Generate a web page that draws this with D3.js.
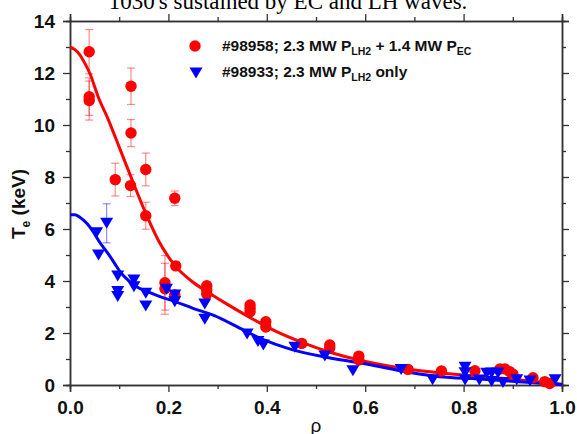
<!DOCTYPE html>
<html><head><meta charset="utf-8">
<script src="https://cdn.jsdelivr.net/npm/d3@7"></script>
<style>
body{margin:0;background:#fff;}
svg{display:block;}
text{font-family:"Liberation Sans",Arial,sans-serif;}
</style></head>
<body>
<svg id="c" width="577" height="434"></svg>
<script>
// ---- data ----
const xTicks = [0, 0.2, 0.4, 0.6, 0.8, 1.0];
const xMinor = [0.1, 0.3, 0.5, 0.7, 0.9];
const yTicks = [0, 2, 4, 6, 8, 10, 12, 14];
const yMinor = [1, 3, 5, 7, 9, 11, 13];

const legendLabels = ["#98958; 2.3 MW P", "#98933; 2.3 MW P"];

// shot #98958 (LH + EC): rho, Te, error
const redRho = [0.039,0.039,0.039,0.124,0.124,0.092,0.123,0.154,0.154,0.213,0.215,0.193,0.193,0.213,0.278,0.278,0.278,0.366,0.366,0.366,0.398,0.398,0.471,0.528,0.528,0.587,0.587,0.687,0.755,0.823,0.874,0.884,0.894,0.900,0.941,0.965,0.975];
const redTe  = [12.82,11.09,10.94,11.49,9.69,7.90,7.67,8.29,6.51,7.18,4.58,3.93,3.70,3.46,3.82,3.65,3.50,3.08,2.95,2.82,2.43,2.23,1.60,1.54,1.42,1.11,0.96,0.60,0.54,0.55,0.62,0.62,0.51,0.42,0.28,0.13,0.06];
const redErr = [0.85,0.72,0.75,0.70,0.52,0.63,0.42,0.63,0.52,0.28,0.15,1.05,0.98,0,0,0,0,0,0,0,0,0,0,0,0,0,0,0,0,0,0,0,0,0,0,0,0];

// shot #98933 (LH only)
const blueRho = [0.0745,0.054,0.058,0.097,0.097,0.097,0.130,0.130,0.154,0.154,0.196,0.213,0.213,0.274,0.274,0.360,0.382,0.393,0.457,0.518,0.575,0.673,0.737,0.803,0.803,0.803,0.832,0.847,0.857,0.870,0.857,0.880,0.908,0.935,0.986];
const blueTe  = [6.22,5.86,5.00,4.19,3.60,3.40,4.04,3.78,3.53,3.04,3.68,3.46,3.20,3.12,2.53,1.96,1.67,1.54,1.45,1.12,0.55,0.60,0.20,0.68,0.47,0.19,0.19,0.45,0.46,0.46,0.13,0.10,0.20,0.15,0.20];
const blueErr = [0.75,0,0,0,0,0,0,0,0,0,0,0,0,0,0,0,0,0,0,0,0,0,0,0,0,0,0,0,0,0,0,0,0,0,0];

// fitted profiles
const redFitRho = [0,0.01,0.02,0.03,0.04,0.058,0.078,0.10,0.125,0.154,0.18,0.213,0.25,0.278,0.32,0.37,0.42,0.474,0.53,0.596,0.65,0.70,0.80,0.90,1.0];
const redFitTe  = [13.0,12.9,12.7,12.38,12.0,11.05,10.2,9.15,7.95,6.6,5.55,4.6,3.95,3.6,3.1,2.55,2.05,1.62,1.25,0.92,0.72,0.58,0.38,0.22,0.03];
const blueFitRho = [0,0.01,0.02,0.035,0.047,0.06,0.0745,0.09,0.1016,0.12,0.1355,0.16,0.183,0.215,0.25,0.291,0.352,0.386,0.42,0.453,0.515,0.596,0.671,0.738,0.84,0.92,1.0];
const blueFitTe  = [6.55,6.55,6.45,6.2,5.9,5.5,5.13,4.7,4.36,4.0,3.78,3.57,3.4,3.2,2.95,2.69,2.12,1.8,1.55,1.35,1.09,0.83,0.55,0.35,0.22,0.12,0.02];

// ---- drawing ----
const svg = d3.select("#c");
const x = d3.scaleLinear().domain([0,1]).range([70,562]);
const y = d3.scaleLinear().domain([0,14]).range([385,21]);
const RED = "#ff0000", BLUE = "#0000ff";
const axisCol = "#333";

// title (cropped at the top edge, as in the source figure)
svg.append("text").attr("x",288).attr("y",9).attr("text-anchor","middle")
  .style("font-family","'Liberation Serif','Times New Roman',serif").style("font-size","23px")
  .text("1030's sustained by EC and LH waves.");

function styleAxis(g){
  g.select(".domain").attr("stroke",axisCol).attr("stroke-width",1.5);
  g.selectAll(".tick line").attr("stroke",axisCol).attr("stroke-width",1.3);
  g.selectAll("text").style("font-size","19px").style("font-weight","bold").attr("fill","#111");
}
const fmtX = d3.format(".1f");
// bottom
svg.append("g").attr("transform","translate(0,385)")
  .call(d3.axisBottom(x).tickValues(xTicks).tickSize(7).tickPadding(9).tickFormat(fmtX)).call(styleAxis);
svg.append("g").attr("transform","translate(0,385)")
  .call(d3.axisBottom(x).tickValues(xMinor).tickSize(4).tickFormat("")).call(styleAxis);
// top
svg.append("g").attr("transform","translate(0,21)")
  .call(d3.axisTop(x).tickValues(xTicks).tickSize(7).tickFormat("")).call(styleAxis);
svg.append("g").attr("transform","translate(0,21)")
  .call(d3.axisTop(x).tickValues(xMinor).tickSize(4).tickFormat("")).call(styleAxis);
// left
svg.append("g").attr("transform","translate(70,0)")
  .call(d3.axisLeft(y).tickValues(yTicks).tickSize(7).tickPadding(8).tickFormat(d3.format("d"))).call(styleAxis);
svg.append("g").attr("transform","translate(70,0)")
  .call(d3.axisLeft(y).tickValues(yMinor).tickSize(4).tickFormat("")).call(styleAxis);
// right
svg.append("g").attr("transform","translate(562,0)")
  .call(d3.axisRight(y).tickValues(yTicks).tickSize(7).tickFormat("")).call(styleAxis);
svg.append("g").attr("transform","translate(562,0)")
  .call(d3.axisRight(y).tickValues(yMinor).tickSize(4).tickFormat("")).call(styleAxis);

// axis titles
svg.append("text").attr("x",316).attr("y",432).attr("text-anchor","middle")
  .style("font-size","19px").attr("fill","#111").text("ρ");
const yl = svg.append("text").attr("transform","translate(25,204) rotate(-90)").attr("text-anchor","middle")
  .style("font-size","19px").style("font-weight","bold").attr("fill","#111");
yl.append("tspan").text("T");
yl.append("tspan").attr("dy",5).style("font-size","12px").text("e");
yl.append("tspan").attr("dy",-5).text(" (keV)");

const plot = svg.append("g");
const red = redRho.map((r,i)=>({r, t:redTe[i], e:redErr[i]}));
const blue = blueRho.map((r,i)=>({r, t:blueTe[i], e:blueErr[i]}));

// error bars
function errBars(data, col){
  const g = plot.append("g").attr("stroke",col).attr("stroke-width",1.2).attr("fill","none");
  data.filter(d=>d.e>0).forEach(d=>{
    const cx = x(d.r), y1 = y(d.t+d.e), y2 = y(d.t-d.e);
    g.append("line").attr("x1",cx).attr("x2",cx).attr("y1",y1).attr("y2",y2);
    g.append("line").attr("x1",cx-4).attr("x2",cx+4).attr("y1",y1).attr("y2",y1);
    g.append("line").attr("x1",cx-4).attr("x2",cx+4).attr("y1",y2).attr("y2",y2);
  });
}
errBars(red, "rgba(255,0,0,0.45)");
errBars(blue, "rgba(0,0,255,0.45)");

// fit lines
const line = d3.line().x(d=>x(d[0])).y(d=>y(d[1])).curve(d3.curveMonotoneX);
plot.append("path").attr("d", line(redFitRho.map((r,i)=>[r,redFitTe[i]])))
  .attr("fill","none").attr("stroke",RED).attr("stroke-width",3);
plot.append("path").attr("d", line(blueFitRho.map((r,i)=>[r,blueFitTe[i]])))
  .attr("fill","none").attr("stroke",BLUE).attr("stroke-width",3);

// markers
const tri = "M-6.5,-5.5L6.5,-5.5L0,5.5Z";
plot.append("g").selectAll("circle").data(red).join("circle")
  .attr("cx",d=>x(d.r)).attr("cy",d=>y(d.t)).attr("r",5.7).attr("fill",RED);
plot.append("g").selectAll("path").data(blue).join("path")
  .attr("d",tri).attr("transform",d=>`translate(${x(d.r)},${y(d.t)})`).attr("fill",BLUE);

// legend
const lg = svg.append("g");
lg.append("circle").attr("cx",195).attr("cy",46).attr("r",5.7).attr("fill",RED);
lg.append("path").attr("d",tri).attr("transform","translate(196,73)").attr("fill",BLUE);
const t1 = lg.append("text").attr("x",222).attr("y",51).style("font-size","15.5px").style("font-weight","bold").attr("fill","#111");
t1.append("tspan").text(legendLabels[0]);
t1.append("tspan").attr("dy",4).style("font-size","10.5px").text("LH2");
t1.append("tspan").attr("dy",-4).text(" + 1.4 MW P");
t1.append("tspan").attr("dy",4).style("font-size","10.5px").text("EC");
const t2 = lg.append("text").attr("x",222).attr("y",77).style("font-size","15.5px").style("font-weight","bold").attr("fill","#111");
t2.append("tspan").text(legendLabels[1]);
t2.append("tspan").attr("dy",4).style("font-size","10.5px").text("LH2");
t2.append("tspan").attr("dy",-4).text(" only");
</script>
</body></html>
